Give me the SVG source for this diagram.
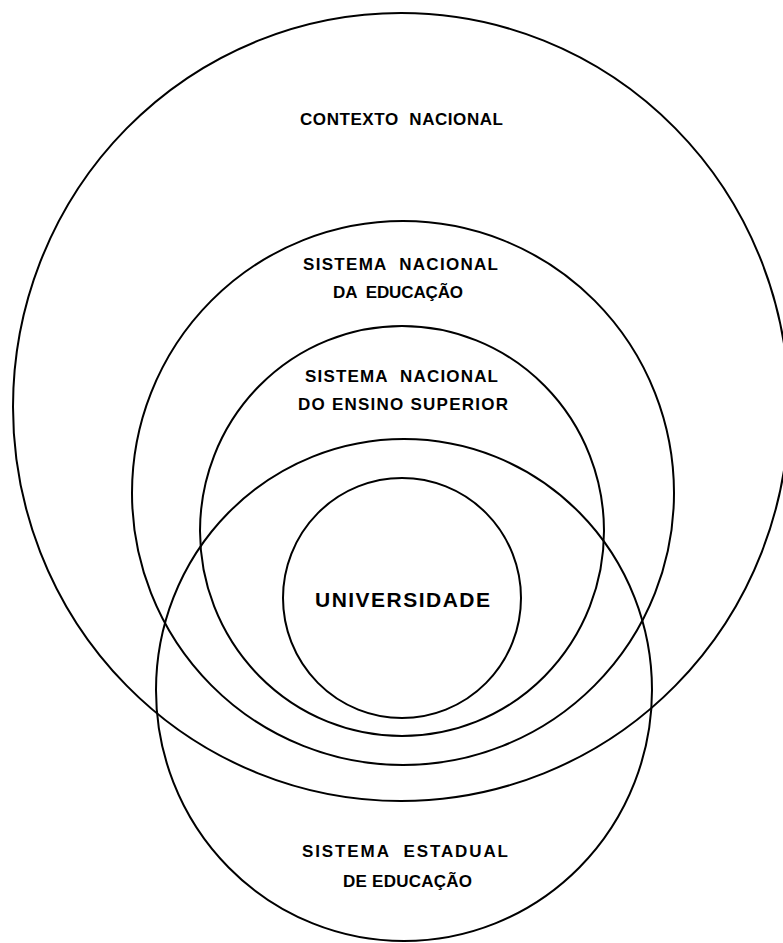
<svg xmlns="http://www.w3.org/2000/svg" width="783" height="943" viewBox="0 0 783 943">
<style>
.c{fill:none;stroke:#000;stroke-width:2}
.t{font-family:"Liberation Sans",Arial,sans-serif;font-weight:bold;font-size:17px;fill:#000;white-space:pre}
.u{font-family:"Liberation Sans",Arial,sans-serif;font-weight:bold;font-size:21px;fill:#000}
</style>
<rect width="783" height="943" fill="#fff"/>
<g id="contexto-nacional">
<ellipse class="c" cx="401" cy="407" rx="388" ry="394"/>
<text class="t" xml:space="preserve" x="300" y="125" textLength="203" lengthAdjust="spacing">CONTEXTO  NACIONAL</text>
</g>
<g id="sistema-nacional-educacao">
<ellipse class="c" cx="403" cy="493" rx="271" ry="272"/>
<text class="t" xml:space="preserve" x="303" y="270" textLength="195" lengthAdjust="spacing">SISTEMA  NACIONAL</text>
<text class="t" xml:space="preserve" x="333" y="298" textLength="130" lengthAdjust="spacing">DA  EDUCAÇÃO</text>
</g>
<g id="sistema-nacional-ensino-superior">
<ellipse class="c" cx="402" cy="531" rx="202" ry="205"/>
<text class="t" xml:space="preserve" x="305" y="382" textLength="193" lengthAdjust="spacing">SISTEMA  NACIONAL</text>
<text class="t" xml:space="preserve" x="298" y="410" textLength="210" lengthAdjust="spacing">DO ENSINO SUPERIOR</text>
</g>
<g id="sistema-estadual">
<ellipse class="c" cx="404" cy="690" rx="248" ry="251"/>
<text class="t" xml:space="preserve" x="302" y="857" textLength="206" lengthAdjust="spacing">SISTEMA  ESTADUAL</text>
<text class="t" xml:space="preserve" x="343" y="887" textLength="129" lengthAdjust="spacing">DE EDUCAÇÃO</text>
</g>
<g id="universidade">
<ellipse class="c" cx="402" cy="598" rx="119" ry="120"/>
<text class="u" x="315" y="607" textLength="175" lengthAdjust="spacing">UNIVERSIDADE</text>
</g>
<g id="connectors"/>
</svg>
